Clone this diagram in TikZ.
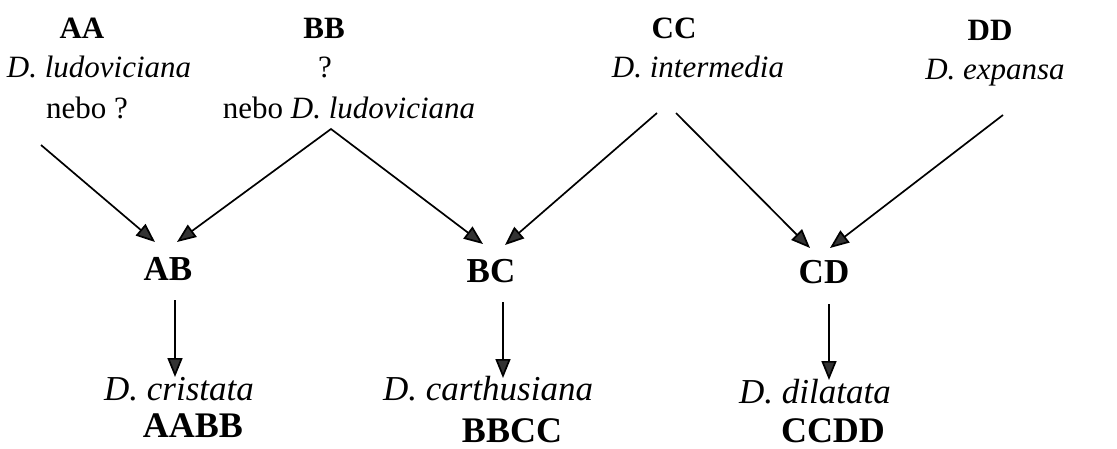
\documentclass[tikz,border=0pt]{standalone}
\usepackage{fontspec}
\setmainfont{Liberation Serif}
\usetikzlibrary{arrows.meta}
\begin{document}
\begin{tikzpicture}[x=1pt,y=-1pt,
  lbl/.style={inner sep=0pt,anchor=base},
  topf/.style={lbl,font=\fontsize{31}{36}\selectfont},
  topb/.style={lbl,font=\fontsize{31}{36}\selectfont\bfseries},
  midf/.style={lbl,font=\fontsize{35}{40}\selectfont\bfseries},
  botf/.style={lbl,font=\fontsize{35}{40}\selectfont\itshape},
  gen/.style={lbl,text depth=0pt,font=\fontsize{36}{40}\selectfont\bfseries},
  tip/.style={Triangle[length=19pt,width=15pt,fill=black!80]},
  arr/.style={line width=1.7pt,-{Triangle[length=19pt,width=15pt,fill=black!80]}},
  arrb/.style={line width=1.7pt,{Triangle[length=19pt,width=15pt,fill=black!80]}-{Triangle[length=19pt,width=15pt,fill=black!80]}}]
\useasboundingbox (0,0) rectangle (1117,448);
% top labels
\node[topb] (AA) at (82,38) {AA};
\node[topf] (AA2) at (99,77) {\itshape D. ludoviciana};
\node[topf] (AA3) at (87,118) {nebo ?};
\node[topb] (BB) at (324,38) {BB};
\node[topf] (BB2) at (325,77) {?};
\node[topf] (BB3) at (349,118) {nebo \textit{D. ludoviciana}};
\node[topb] (CC) at (674,38) {CC};
\node[topf] (CC2) at (698,77) {\itshape D. intermedia};
\node[topb] (DD) at (990,40) {DD};
\node[topf] (DD2) at (995,79) {\itshape D. expansa};
% hybrids
\node[midf] (AB) at (168,280) {AB};
\node[midf] (BC) at (491,282) {BC};
\node[midf] (CD) at (824,283) {CD};
% species
\node[botf] (s1) at (179,400) {D. cristata};
\node[botf] (s2) at (488,400) {D. carthusiana};
\node[botf] (s3) at (815,403) {D. dilatata};
\node[gen] (g1) at (193,437) {AABB};
\node[gen] (g2) at (512,442) {BBCC};
\node[gen] (g3) at (833,442) {CCDD};
% connector points
\coordinate (aS) at (41,145);
\coordinate (abT1) at (155,242);
\coordinate (apex) at (331,129);
\coordinate (abT2) at (177,242);
\coordinate (bcT1) at (483,244);
\coordinate (cL) at (657,113);
\coordinate (bcT2) at (505,245);
\coordinate (cR) at (676,113);
\coordinate (cdT1) at (810,248);
\coordinate (dS) at (1003,115);
\coordinate (cdT2) at (830,248);
\coordinate (v1s) at (175,300);
\coordinate (v1t) at (175,377);
\coordinate (v2s) at (503,302);
\coordinate (v2t) at (503,378);
\coordinate (v3s) at (829,304);
\coordinate (v3t) at (829,380);
% connectors
\draw[arr] (aS) -- (abT1);
\draw[arrb] (abT2) -- (apex) -- (bcT1);
\draw[arr] (cL) -- (bcT2);
\draw[arr] (cR) -- (cdT1);
\draw[arr] (dS) -- (cdT2);
\draw[arr] (v1s) -- (v1t);
\draw[arr] (v2s) -- (v2t);
\draw[arr] (v3s) -- (v3t);
\end{tikzpicture}
\end{document}
